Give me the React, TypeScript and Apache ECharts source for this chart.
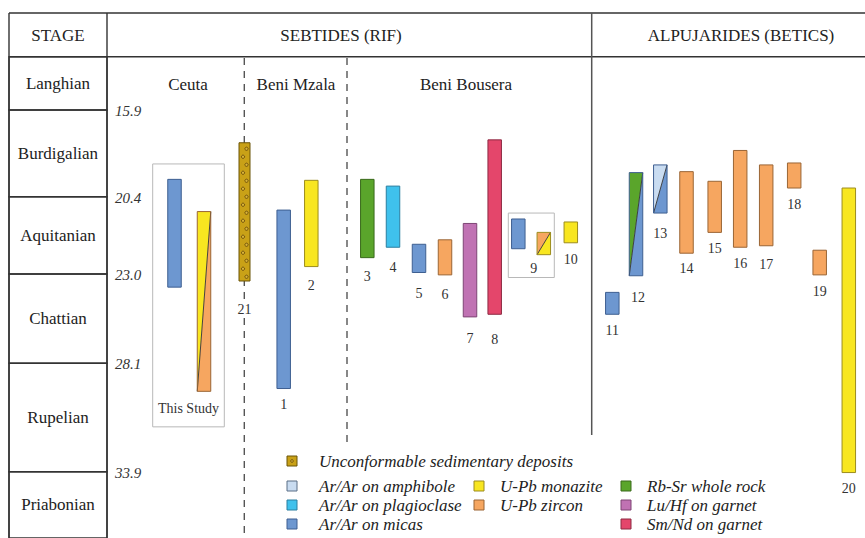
import React, { useEffect, useRef } from "react";
import * as echarts from "echarts";

// ---------------- DATA ----------------
const stageNames = ["Langhian", "Burdigalian", "Aquitanian", "Chattian", "Rupelian", "Priabonian"];
const stageBoundaryAges = [13.8, 15.9, 20.4, 23.0, 28.1, 33.9, 37.8];
const tickAges = [15.9, 20.4, 23.0, 28.1, 33.9];

const methodNames = [
  "Unconformable sedimentary deposits",
  "Ar/Ar on amphibole",
  "Ar/Ar on plagioclase",
  "Ar/Ar on micas",
  "U-Pb monazite",
  "U-Pb zircon",
  "Rb-Sr whole rock",
  "Lu/Hf on garnet",
  "Sm/Nd on garnet",
];

// one entry per bar
const sampleLabels = ["", "", "21", "1", "2", "3", "4", "5", "6", "7", "8", "", "9", "10", "11", "12", "13", "14", "15", "16", "17", "18", "19", "20"];
const youngAges = [19.5, 20.9, 17.6, 20.85, 19.55, 19.5, 19.85, 22.0, 21.85, 21.3, 17.45, 21.15, 21.6, 21.25, 24.05, 19.15, 18.75, 19.1, 19.6, 18.0, 18.75, 18.65, 22.2, 19.95];
const oldAges = [23.75, 29.6, 23.4, 29.45, 22.75, 22.45, 22.1, 22.95, 23.05, 25.45, 25.3, 22.15, 22.35, 21.95, 25.3, 23.1, 20.95, 22.3, 21.6, 22.1, 22.05, 19.95, 23.05, 33.95];
// index into methodNames; methodB = second method for split bars (-1 = none)
const methodA = [3, 4, 0, 3, 4, 6, 2, 3, 5, 7, 8, 3, 5, 4, 3, 6, 1, 5, 5, 5, 5, 5, 5, 4];
const methodB = [-1, 5, -1, -1, -1, -1, -1, -1, -1, -1, -1, -1, 4, -1, -1, 3, 3, -1, -1, -1, -1, -1, -1, -1];

const frameLabels = ["This Study", ""];
const frameYoungAges = [18.7, 20.95];
const frameOldAges = [31.5, 23.2];

const domainNames = ["SEBTIDES (RIF)", "ALPUJARIDES (BETICS)"];
const regionNames = ["Ceuta", "Beni Mzala", "Beni Bousera"];

// ---------------- LAYOUT / STYLE ----------------
const W = 865;
const H = 538;
const TABLE_TOP = 13;
const HEAD_BOTTOM = 56.7;
const stageHeights = [53.3, 86.7, 77.3, 89.3, 108.4, 66.3];
const sampleX = [174.5, 204, 244.5, 283.7, 311.3, 367.3, 393, 419, 445, 470, 494.7, 518.3, 543.8, 570.8, 612.3, 636, 660.3, 686.5, 714.7, 740.2, 766.2, 794.2, 819.7, 848.8];
const labelGap = [0, 0, 28, 15.5, 18.5, 18.5, 20, 21, 19.5, 22, 25, 0, 13.5, 16.7, 16.7, 22, 20, 15.5, 16, 16.7, 18.3, 16, 16.4, 15.6];
const labelDx = [0, 0, 0, 0, 0, 0, 0, 0, 0, 0, 0, 0, -10, 0, 0, 2, 0, 0, 0, 0, 0, 0, 0, 0];
const frameX0 = [152.7, 508.3];
const frameX1 = [224.3, 554.3];

const methodColors = ["#c9a117", "#c9dcf1", "#3fc1ec", "#6d97d0", "#f8e620", "#f6a660", "#5aa52b", "#c072b3", "#e4466b"];
const methodStrokes = ["#6b5408", "#5b6e86", "#2a7fa0", "#3e5f91", "#9c8c1e", "#9a6535", "#3a6a1c", "#7e4574", "#8c2a42"];

const SERIF = "'Liberation Serif', 'DejaVu Serif', serif";
const TEXT = "#222";
const BIG = 17;

const cum: number[] = [0];
stageHeights.forEach((h) => cum.push(cum[cum.length - 1] + h));

function disp(age: number): number {
  const b = stageBoundaryAges;
  let i = 0;
  while (i < b.length - 2 && age > b[i + 1]) i++;
  return cum[i] + ((age - b[i]) / (b[i + 1] - b[i])) * stageHeights[i];
}

export default function App() {
  const ref = useRef<HTMLDivElement>(null);

  useEffect(() => {
    document.body.style.margin = "0";
    const chart = echarts.init(ref.current!, null, { renderer: "svg" });

    const stageData = stageNames.map((_, i) => [disp(stageBoundaryAges[i]), disp(stageBoundaryAges[i + 1]), i]);
    const tickData = tickAges.map((a, i) => [disp(a), i]);
    const barData = sampleLabels.map((_, i) => [sampleX[i], disp(youngAges[i]), disp(oldAges[i]), i]);
    const frameData = frameLabels.map((_, i) => [frameX0[i], frameX1[i], disp(frameYoungAges[i]), disp(frameOldAges[i]), i]);

    const stageRender = (params: any, api: any) => {
      const i = api.value(2);
      const a = api.coord([9, api.value(0)]);
      const b = api.coord([107, api.value(1)]);
      return {
        type: "group",
        children: [
          {
            type: "rect",
            shape: { x: a[0], y: a[1], width: b[0] - a[0], height: b[1] - a[1] },
            style: { fill: "none", stroke: "#333", lineWidth: 1.4 },
          },
          {
            type: "text",
            style: {
              text: stageNames[i],
              x: (a[0] + b[0]) / 2,
              y: (a[1] + Math.min(b[1], H)) / 2,
              align: "center",
              verticalAlign: "middle",
              fontSize: BIG,
              fontFamily: SERIF,
              fill: TEXT,
            },
          },
        ],
      };
    };

    const tickRender = (params: any, api: any) => {
      const i = api.value(1);
      const p = api.coord([115, api.value(0)]);
      return {
        type: "text",
        style: {
          text: tickAges[i].toFixed(1),
          x: p[0],
          y: p[1] + 1,
          align: "left",
          verticalAlign: "middle",
          fontSize: 15,
          fontStyle: "italic",
          fontFamily: SERIF,
          fill: "#333",
        },
      };
    };

    const frameRender = (params: any, api: any) => {
      const i = api.value(4);
      const a = api.coord([api.value(0), api.value(2)]);
      const b = api.coord([api.value(1), api.value(3)]);
      const children: any[] = [
        {
          type: "rect",
          shape: { x: a[0], y: a[1], width: b[0] - a[0], height: b[1] - a[1] },
          style: { fill: "none", stroke: "#b8b8b8", lineWidth: 1 },
        },
      ];
      if (frameLabels[i]) {
        children.push({
          type: "text",
          style: {
            text: frameLabels[i],
            x: (a[0] + b[0]) / 2,
            y: b[1] - 18.5,
            align: "center",
            verticalAlign: "middle",
            fontSize: 14,
            fontFamily: SERIF,
            fill: "#333",
          },
        });
      }
      return { type: "group", children };
    };

    const barRender = (params: any, api: any) => {
      const i = api.value(3);
      const mA = methodA[i];
      const mB = methodB[i];
      const w = mA === 0 ? 11 : 13.5;
      const pa = api.coord([api.value(0) - w / 2, api.value(1)]);
      const pb = api.coord([api.value(0) + w / 2, api.value(2)]);
      const x0 = pa[0], y0 = pa[1], x1 = pb[0], y1 = pb[1];
      const children: any[] = [];
      if (mB < 0) {
        children.push({
          type: "rect",
          shape: { x: x0, y: y0, width: x1 - x0, height: y1 - y0 },
          style: { fill: methodColors[mA], stroke: methodStrokes[mA], lineWidth: 1 },
        });
      } else {
        children.push({
          type: "polygon",
          shape: { points: [[x0, y0], [x1, y0], [x0, y1]] },
          style: { fill: methodColors[mA] },
        });
        children.push({
          type: "polygon",
          shape: { points: [[x1, y0], [x1, y1], [x0, y1]] },
          style: { fill: methodColors[mB] },
        });
        children.push({
          type: "line",
          shape: { x1: x1, y1: y0, x2: x0, y2: y1 },
          style: { stroke: "#333", lineWidth: 0.9 },
        });
        children.push({
          type: "rect",
          shape: { x: x0, y: y0, width: x1 - x0, height: y1 - y0 },
          style: { fill: "none", stroke: methodStrokes[mB], lineWidth: 1 },
        });
      }
      if (mA === 0) {
        let k = 0;
        for (let yy = y0 + 6; yy < y1 - 3; yy += 8) {
          children.push({
            type: "circle",
            shape: { cx: (x0 + x1) / 2 + (k % 2 === 0 ? 2 : -1.5), cy: yy, r: 1.6 },
            style: { fill: "#d9b53a", stroke: "#5a3d05", lineWidth: 0.8 },
          });
          k++;
        }
      }
      if (sampleLabels[i]) {
        children.push({
          type: "text",
          style: {
            text: sampleLabels[i],
            x: (x0 + x1) / 2 + labelDx[i],
            y: y1 + labelGap[i],
            align: "center",
            verticalAlign: "middle",
            fontSize: 14,
            fontFamily: SERIF,
            fill: "#333",
            backgroundColor: mA === 0 ? "#fff" : undefined,
          },
        });
      }
      return { type: "group", children };
    };

    // legend
    const legendGraphics: any[] = [];
    const legendCols = [[1, 2, 3], [4, 5], [6, 7, 8]];
    const colSwatchX = [287, 474, 621];
    const colTextX = [319, 500, 647];
    const rowY = [486, 505, 524];
    const legendText = (t: string, x: number, y: number) => ({
      type: "text",
      style: {
        text: t,
        x,
        y,
        align: "left",
        verticalAlign: "middle",
        fontSize: BIG,
        fontStyle: "italic",
        fontFamily: SERIF,
        fill: TEXT,
      },
    });
    legendGraphics.push({
      type: "rect",
      shape: { x: 287, y: 456, width: 10, height: 10 },
      style: { fill: methodColors[0], stroke: methodStrokes[0], lineWidth: 1 },
    });
    legendGraphics.push({
      type: "circle",
      shape: { cx: 292, cy: 461, r: 1.3 },
      style: { fill: "#d9b53a", stroke: "#5a3d05", lineWidth: 0.8 },
    });
    legendGraphics.push(legendText(methodNames[0], 319, 461));
    legendCols.forEach((col, c) => {
      col.forEach((m, r) => {
        legendGraphics.push({
          type: "rect",
          shape: { x: colSwatchX[c], y: rowY[r] - 5, width: 10, height: 10 },
          style: { fill: methodColors[m], stroke: methodStrokes[m], lineWidth: 1 },
        });
        legendGraphics.push(legendText(methodNames[m], colTextX[c], rowY[r]));
      });
    });

    const headerText = (t: string, x: number, y: number, size = BIG) => ({
      type: "text",
      style: {
        text: t,
        x,
        y,
        align: "center",
        verticalAlign: "middle",
        fontSize: size,
        fontFamily: SERIF,
        fill: TEXT,
      },
    });

    const hLine = (x1: number, x2: number, y: number, stroke = "#333", lw = 1.4) => ({
      type: "line",
      shape: { x1, y1: y, x2, y2: y },
      style: { stroke, lineWidth: lw },
    });
    const vLine = (x: number, y1: number, y2: number, stroke = "#333", lw = 1.4, dash?: number[]) => ({
      type: "line",
      shape: { x1: x, y1, x2: x, y2 },
      style: { stroke, lineWidth: lw, lineDash: dash },
    });

    const graphics: any[] = [
      hLine(9, W, TABLE_TOP),
      hLine(9, W, HEAD_BOTTOM),
      vLine(9, TABLE_TOP, H),
      vLine(107, TABLE_TOP, H),
      vLine(591.7, TABLE_TOP, 435, "#555", 1.5),
      vLine(244.3, 58, H, "#555", 1.4, [7, 6]),
      vLine(347, 58, 448, "#555", 1.4, [7, 6]),
      headerText("STAGE", 58, 35),
      headerText(domainNames[0], 341, 35),
      headerText(domainNames[1], 741, 35),
      headerText(regionNames[0], 188, 84),
      headerText(regionNames[1], 296, 84),
      headerText(regionNames[2], 466, 84),
      ...legendGraphics,
    ];

    chart.setOption({
      animation: false,
      backgroundColor: "#fff",
      grid: { left: 0, top: HEAD_BOTTOM, width: W, height: H - HEAD_BOTTOM, containLabel: false },
      xAxis: { type: "value", min: 0, max: W, show: false },
      yAxis: { type: "value", min: 0, max: cum[cum.length - 1], inverse: true, show: false },
      graphic: graphics,
      series: [
        { type: "custom", name: "stages", data: stageData, renderItem: stageRender, clip: false, z: 1, encode: { x: -1, y: [0, 1] } },
        { type: "custom", name: "ticks", data: tickData, renderItem: tickRender, clip: false, z: 1, encode: { y: 0 } },
        { type: "custom", name: "frames", data: frameData, renderItem: frameRender, clip: false, z: 2, encode: { x: [0, 1], y: [2, 3] } },
        { type: "custom", name: "ages", data: barData, renderItem: barRender, clip: false, z: 3, encode: { x: 0, y: [1, 2] } },
      ],
    });

    return () => chart.dispose();
  }, []);

  return <div ref={ref} style={{ position: "fixed", left: 0, top: 0, width: W, height: H, background: "#fff" }} />;
}
